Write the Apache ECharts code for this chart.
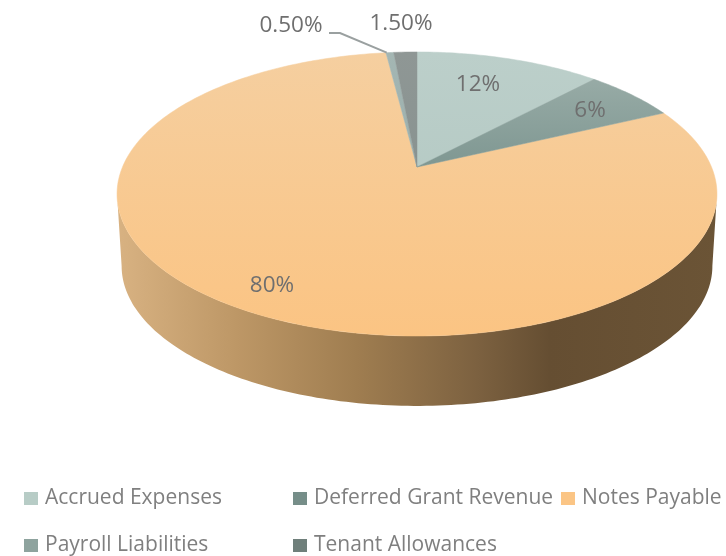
<!DOCTYPE html>
<html><head><meta charset="utf-8">
<style>html,body{margin:0;padding:0;background:#fff}#c{width:726px;height:556px}</style>
<script src="https://cdn.jsdelivr.net/npm/echarts@6/dist/echarts.min.js"></script>
</head><body><div id="c"></div>
<script>
const categories = ['Accrued Expenses','Deferred Grant Revenue','Notes Payable','Payroll Liabilities','Tenant Allowances'];
const values = [12, 6, 80, 0.5, 1.5];
const labels = ['12%','6%','80%','0.50%','1.50%'];

const faceStops = [
  ['#bccfca','#aec5bf'],
  ['#9fb1ac','#4f716b'],
  ['#f5cfa0','#fbc483'],
  ['#a4b6b3','#90a9a5'],
  ['#8f9795','#7f8d8a']
];
const legendColors = ['#b7ccc6','#768e89','#fbc585','#8ea39e','#6f7f7b'];
const labelAt = [[478,85],[590,111],[272,286],[291,26],[401,24]];
const TEXT = '#6f6f6f', FONT = '"Open Sans"';

// projective pie: top and bottom discs
const K = 0.19;
const TOP = {cx:417, cy:167, a:136.9, b:294.5};
const BOT = {cx:417, cy:239.5, a:134.8, b:290};
function proj(d, deg){
  const t = deg*Math.PI/180, X = Math.sin(t), Y = Math.cos(t), w = 1+K*Y;
  return [d.cx + d.b*X/w, d.cy - d.a*Y/w];
}
const tangent = Math.acos(-K)*180/Math.PI;
const total = values.reduce((s,v)=>s+v,0);
let run = 0;
const spans = values.map(v=>{ const s = run/total*360; run += v; return [s, run/total*360]; });
function arc(d, from, to){
  const pts = [], n = Math.max(2, Math.ceil(Math.abs(to-from)));
  for(let i=0;i<=n;i++) pts.push(proj(d, from+(to-from)*i/n));
  return pts;
}
function vGrad(c){ return new echarts.graphic.LinearGradient(0,52,0,336,[{offset:0,color:c[0]},{offset:1,color:c[1]}],true); }
const wallFill = new echarts.graphic.LinearGradient(117,0,718,0,[
  {offset:0,color:'#d8b282'},{offset:0.2,color:'#bd9766'},{offset:0.4,color:'#9f7d50'},
  {offset:0.6,color:'#7c6140'},{offset:0.72,color:'#654e32'},{offset:1,color:'#6b5436'}],true);

function render(i){
  return function(params, api){
    const v = api.value(0);
    const st = spans[i][0], en = st + v/total*360;
    const kids = [];
    const from = Math.max(st, tangent), to = Math.min(en, 360-tangent);
    if(to > from){
      kids.push({type:'polygon', shape:{points: arc(TOP,from,to).concat(arc(BOT,to,from))}, style:{fill:wallFill}});
    }
    const fill = vGrad(faceStops[i]);
    kids.push({type:'polygon', shape:{points:[[TOP.cx,TOP.cy]].concat(arc(TOP,st,en))}, style:{fill, stroke:fill, lineWidth:0.5}});
    return {type:'group', children:kids};
  };
}
const series = categories.map((name,i)=>({
  type:'custom', name, coordinateSystem:'none', silent:true, animation:false,
  itemStyle:{color:legendColors[i]},
  z: i===2?1:2,
  data:[[values[i]]], renderItem:render(i)
}));
// labels + leader line
series.push({
  type:'custom', coordinateSystem:'none', silent:true, animation:false, z:5,
  data:labels.map((l,i)=>[i]),
  renderItem(p,api){
    const i = api.value(0), q = labelAt[i];
    const kids = [{type:'text', style:{text:labels[i], x:q[0], y:q[1], align:'center', verticalAlign:'middle', fill:TEXT, font:'22.5px '+FONT}}];
    if(labels[i]==='0.50%'){
      const e = proj(TOP, spans[3][0]+ (spans[3][1]-spans[3][0])*0.1);
      kids.push({type:'polyline', shape:{points:[[329,33],[340,33],e]}, style:{stroke:'#9aa0a0', lineWidth:2, fill:'none'}});
    }
    return {type:'group', children:kids};
  }
});
function legend(left, names){
  return {left, top:488, orient:'vertical', itemWidth:14, itemHeight:13, itemGap:26, padding:0,
    icon:'rect', selectedMode:false, data:names,
    textStyle:{color:'#7f7f7f', fontFamily:FONT, fontSize:21, lineHeight:20, padding:[0,0,0,2]}};
}
const chart = echarts.init(document.getElementById('c'), null, {renderer:'canvas'});
chart.setOption({
  animation:false, backgroundColor:'#fff',
  legend:[legend(24,[categories[0],categories[3]]), legend(293,[categories[1],categories[4]]), legend(561,[categories[2]])],
  series
});
</script></body></html>
